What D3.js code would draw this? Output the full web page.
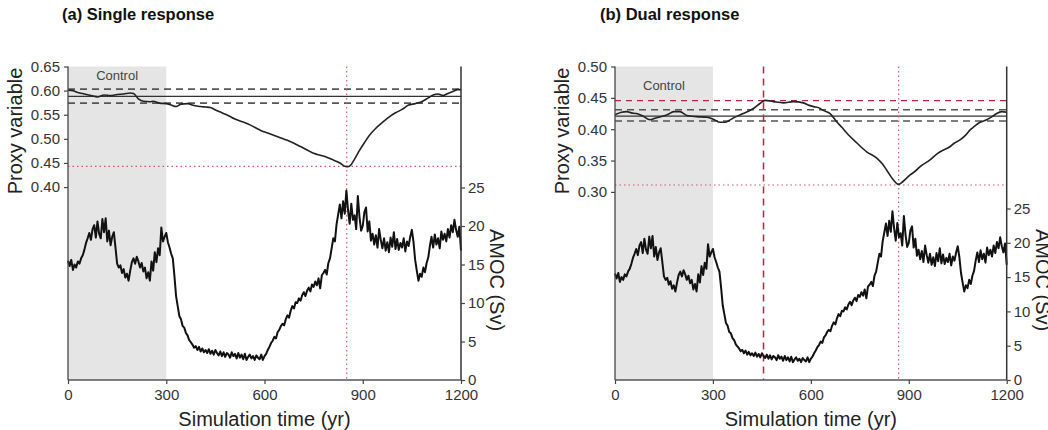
<!DOCTYPE html>
<html><head><meta charset="utf-8">
<script src="https://cdn.jsdelivr.net/npm/d3@7/dist/d3.min.js"></script>
<style>
body{margin:0;background:#fff;}
svg{display:block;font-family:"Liberation Sans",Arial,sans-serif;}
</style></head>
<body><svg id="chart" width="1048" height="430"></svg>
<script>
// ---------- DATA ----------
const xTicks = [0, 300, 600, 900, 1200];
const amocTicks = [0, 5, 10, 15, 20, 25];
const proxyTicksA = [0.40, 0.45, 0.50, 0.55, 0.60, 0.65];
const proxyTicksB = [0.30, 0.35, 0.40, 0.45, 0.50];
const controlPeriod = [0, 300];

// AMOC (Sv), every 5 years from 0 to 1200 (same simulation in both panels)
const amocYears = d3.range(0, 1201, 5);
const amoc = [
 15.5,14.8,15.6,14.3,15.0,14.6,15.4,15.1,15.8,16.2,16.9,
 17.8,18.4,19.1,18.2,19.6,20.1,18.5,20.6,19.0,18.4,
 20.9,19.2,21.0,18.0,19.4,17.5,18.6,19.2,17.2,15.1,
 14.6,14.9,13.9,14.4,13.3,13.8,12.9,14.2,15.3,15.8,
 15.1,16.0,15.4,14.6,15.2,14.1,14.6,13.2,14.0,12.9,
 15.4,14.2,16.6,15.3,17.1,16.2,19.8,18.0,18.6,19.1,
 17.9,17.2,16.4,15.8,13.5,10.9,9.6,8.3,7.9,7.0,
 6.8,6.1,5.8,5.2,4.9,4.6,4.2,4.4,3.9,4.3,
 3.7,4.1,3.6,3.9,3.5,4.0,3.4,3.8,3.3,3.9,
 3.5,3.2,3.7,3.1,3.6,3.0,3.5,3.3,2.9,3.6,
 3.1,3.4,2.8,3.5,2.9,3.3,2.7,3.4,2.6,3.0,
 3.3,2.8,3.1,2.6,3.2,2.9,2.7,3.3,2.6,3.1,
 3.4,3.9,4.3,4.8,5.1,5.6,5.4,6.2,6.5,7.0,
 7.3,7.1,7.9,8.4,8.1,9.0,9.6,9.3,10.1,10.0,
 10.6,10.3,11.0,11.4,10.9,11.6,12.0,11.5,12.4,12.1,
 12.8,12.3,13.2,11.9,13.6,13.9,14.3,13.7,15.2,15.8,
 17.1,18.4,18.0,20.2,21.5,22.8,21.0,23.2,21.6,24.6,
 22.1,20.3,22.9,20.8,21.4,19.6,23.9,21.2,19.4,20.0,
 21.8,22.4,19.3,20.6,18.1,19.0,17.6,18.8,17.2,19.6,
 18.2,17.1,18.4,16.8,17.9,16.6,18.5,17.3,19.2,17.0,
 18.3,16.9,17.8,17.2,18.4,16.7,18.0,17.4,18.6,19.5,
 17.9,15.6,14.2,12.9,13.8,13.4,14.6,14.0,15.2,15.9,
 17.4,18.6,17.2,18.9,17.6,18.4,17.1,19.3,18.2,19.0,
 18.0,19.6,18.5,20.1,19.2,20.8,19.5,18.6,19.9,16.8
];

// Proxy variable, panel (a) single response
const proxyYearsA = [0,15,30,50,70,90,110,130,150,170,190,200,215,230,250,260,280,300,315,330,345,365,385,405,420,435,450,470,490,510,530,550,570,590,610,630,650,670,690,710,730,750,770,790,810,830,845,855,865,875,890,905,920,940,960,980,1000,1020,1040,1060,1080,1100,1115,1130,1145,1160,1175,1190,1200];
const proxyA = [0.601,0.600,0.596,0.593,0.590,0.587,0.591,0.590,0.592,0.593,0.595,0.594,0.583,0.578,0.577,0.578,0.574,0.573,0.570,0.567,0.572,0.573,0.569,0.567,0.566,0.565,0.560,0.554,0.548,0.541,0.536,0.531,0.524,0.517,0.512,0.507,0.502,0.497,0.491,0.484,0.477,0.470,0.466,0.462,0.456,0.450,0.443,0.442,0.447,0.458,0.476,0.492,0.507,0.522,0.534,0.545,0.554,0.561,0.570,0.573,0.577,0.585,0.591,0.593,0.590,0.594,0.598,0.602,0.602];

// Proxy variable, panel (b) dual response
const proxyYearsB = [0,20,36,50,66,85,107,125,140,160,180,199,220,250,281,301,322,337,350,363,393,410,424,444,460,485,516,546,577,595,608,625,638,659,679,695,710,741,771,802,820,832,853,868,883,904,920,934,965,980,996,1026,1040,1057,1075,1088,1100,1118,1139,1155,1169,1185,1200];
const proxyB = [0.423,0.427,0.428,0.426,0.425,0.421,0.415,0.418,0.420,0.423,0.428,0.428,0.422,0.420,0.419,0.416,0.411,0.411,0.414,0.418,0.425,0.429,0.433,0.441,0.446,0.444,0.442,0.444,0.442,0.438,0.436,0.434,0.430,0.425,0.412,0.403,0.394,0.378,0.364,0.354,0.344,0.335,0.319,0.312,0.317,0.327,0.333,0.340,0.351,0.358,0.364,0.372,0.378,0.383,0.391,0.399,0.404,0.411,0.415,0.420,0.425,0.428,0.427];

// Reference levels
const baselineA = [0.588, 0.603, 0.574];   // mean, upper, lower
const baselineB = [0.421, 0.431, 0.413];
const minA = {year: 851, value: 0.443};
const minB = {year: 869, value: 0.311};
const maxB = {year: 455, value: 0.4455};

// ---------- DRAW ----------
const svg = d3.select("#chart");
const FONT_TICK = 15, FONT_TITLE = 20;
const RED_DOT = "#d2566a", RED_DASH = "#b8243f";

function panel(cfg){
  const g = svg.append("g");
  const x = d3.scaleLinear().domain([0,1200]).range([cfg.x0, cfg.x1]);
  const yP = d3.scaleLinear().domain(cfg.pDomain).range([380, 66.5]);
  const yA = d3.scaleLinear().domain([0,25]).range([380, cfg.a25]);
  const top = 66.5, bot = 380;

  // control shading
  g.append("rect").attr("x", x(controlPeriod[0])).attr("y", top)
    .attr("width", x(controlPeriod[1]) - x(controlPeriod[0])).attr("height", bot - top)
    .attr("fill", "#e5e5e5");
  g.append("text").attr("x", x(150)).attr("y", cfg.ctrlY).attr("text-anchor","middle")
    .attr("font-size", 13).attr("fill", "#444").text("Control");

  // baseline lines
  g.append("line").attr("x1", x(0)).attr("x2", x(1200))
    .attr("y1", yP(cfg.base[0])).attr("y2", yP(cfg.base[0]))
    .attr("stroke", "#333").attr("stroke-width", 1.3);
  [cfg.base[1], cfg.base[2]].forEach(v => {
    g.append("line").attr("x1", x(0)).attr("x2", x(1200))
      .attr("y1", yP(v)).attr("y2", yP(v))
      .attr("stroke", "#555").attr("stroke-width", 1.6).attr("stroke-dasharray", "7,5");
  });

  // red markers
  if (cfg.max){
    g.append("line").attr("x1", x(0)).attr("x2", x(1200))
      .attr("y1", yP(cfg.max.value)).attr("y2", yP(cfg.max.value))
      .attr("stroke", RED_DASH).attr("stroke-width", 1.3).attr("stroke-dasharray", "6,5");
    g.append("line").attr("x1", x(cfg.max.year)).attr("x2", x(cfg.max.year))
      .attr("y1", top).attr("y2", bot)
      .attr("stroke", RED_DASH).attr("stroke-width", 1.5).attr("stroke-dasharray", "7,5");
  }
  g.append("line").attr("x1", x(0)).attr("x2", x(1200))
    .attr("y1", yP(cfg.min.value)).attr("y2", yP(cfg.min.value))
    .attr("stroke", RED_DOT).attr("stroke-width", 1.2).attr("stroke-dasharray", "1.5,3");
  g.append("line").attr("x1", x(cfg.min.year)).attr("x2", x(cfg.min.year))
    .attr("y1", top).attr("y2", bot)
    .attr("stroke", RED_DOT).attr("stroke-width", 1.2).attr("stroke-dasharray", "1.5,3");

  // proxy curve
  const pData = cfg.pYears.map((yr,i) => [yr, cfg.pVals[i]]);
  g.append("path").datum(pData)
    .attr("d", d3.line().x(d => x(d[0])).y(d => yP(d[1])).curve(d3.curveMonotoneX))
    .attr("fill","none").attr("stroke","#222").attr("stroke-width",1.6);

  // AMOC curve
  const aData = amocYears.map((yr,i) => [yr, amoc[i]]);
  g.append("path").datum(aData)
    .attr("d", d3.line().x(d => x(d[0])).y(d => yA(d[1])))
    .attr("fill","none").attr("stroke","#111").attr("stroke-width",2)
    .attr("stroke-linejoin","round");

  // axes lines
  g.append("line").attr("x1", x(0)).attr("x2", x(0)).attr("y1", top).attr("y2", bot)
    .attr("stroke","#444").attr("stroke-width",1.3);
  g.append("line").attr("x1", x(1200)).attr("x2", x(1200)).attr("y1", top).attr("y2", bot)
    .attr("stroke","#333").attr("stroke-width",1.5);
  g.append("line").attr("x1", x(0)).attr("x2", x(1200)).attr("y1", bot).attr("y2", bot)
    .attr("stroke","#555").attr("stroke-width",1.3);

  const styleAxis = sel => {
    sel.select(".domain").remove();
    sel.selectAll(".tick line").attr("stroke","#444").attr("stroke-width",1.2);
    sel.selectAll(".tick text").attr("fill","#333").attr("font-size",FONT_TICK)
      .attr("font-family",'"Liberation Sans",Arial,sans-serif');
  };
  g.append("g").attr("transform",`translate(${x(0)},0)`)
    .call(d3.axisLeft(yP).tickValues(cfg.pTicks).tickFormat(d3.format(".2f")).tickSize(4).tickPadding(4))
    .call(styleAxis);
  g.append("g").attr("transform",`translate(${x(1200)},0)`)
    .call(d3.axisRight(yA).tickValues(amocTicks).tickFormat(d3.format("d")).tickSize(4).tickPadding(3))
    .call(styleAxis);
  g.append("g").attr("transform",`translate(0,${bot})`)
    .call(d3.axisBottom(x).tickValues(xTicks).tickFormat(d3.format("d")).tickSize(4).tickPadding(5))
    .call(styleAxis);

  // titles
  g.append("text").attr("x", cfg.titleX).attr("y", 20).attr("font-weight","bold")
    .attr("font-size", 16.5).attr("fill","#111").text(cfg.title);
  g.append("text").attr("x", (x(0)+x(1200))/2).attr("y", 426).attr("text-anchor","middle")
    .attr("font-size", FONT_TITLE).attr("fill","#222").text("Simulation time (yr)");
  g.append("text").attr("transform", `translate(${cfg.x0 - 46},131) rotate(-90)`)
    .attr("text-anchor","middle").attr("font-size", FONT_TITLE).attr("fill","#222").text("Proxy variable");
  g.append("text").attr("transform", `translate(${cfg.x1 + 29},280) rotate(90)`)
    .attr("text-anchor","middle").attr("font-size", FONT_TITLE).attr("fill","#222").text("AMOC (Sv)");
}

panel({x0:68, x1:461, pDomain:[0,0.65], a25:187.5, pTicks:proxyTicksA,
  pYears:proxyYearsA, pVals:proxyA, base:baselineA, min:minA, max:null,
  title:"(a) Single response", titleX:62, ctrlY:80});
panel({x0:615, x1:1006.7, pDomain:[0,0.5], a25:208.5, pTicks:proxyTicksB,
  pYears:proxyYearsB, pVals:proxyB, base:baselineB, min:minB, max:maxB,
  title:"(b) Dual response", titleX:600, ctrlY:90});
</script>
</body></html>
